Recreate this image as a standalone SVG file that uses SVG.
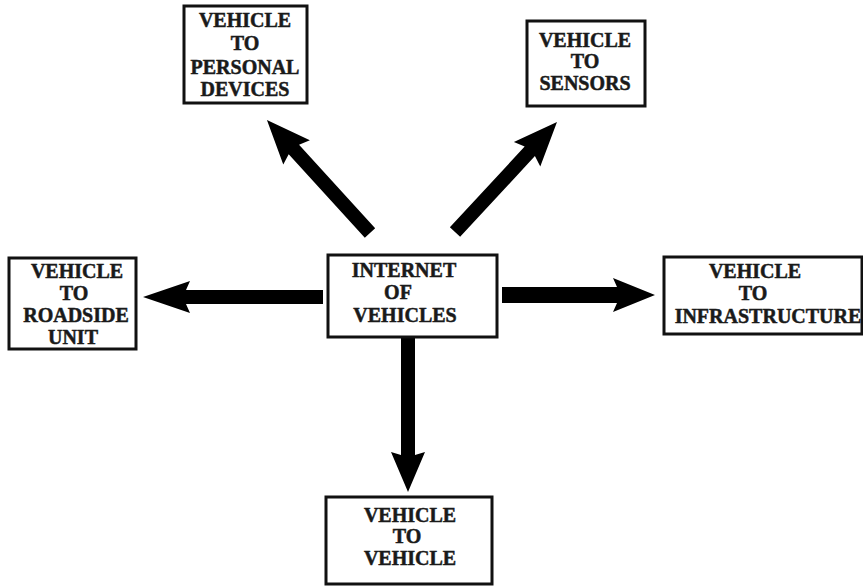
<svg xmlns="http://www.w3.org/2000/svg" width="863" height="587" viewBox="0 0 863 587">
  <style>
    .box { fill: #ffffff; stroke: #111111; stroke-width: 3; }
    .lbl { font-family: "Liberation Serif", "Times New Roman", serif; font-weight: bold; font-size: 20px; fill: #1a1a1a; stroke: #1a1a1a; stroke-width: 0.5; text-anchor: middle; }
    .arrow { fill: #000000; }
  </style>
  <rect width="863" height="587" fill="#ffffff"/>

  <!-- connectors: thick block arrows drawn from the hub outwards -->
  <g id="connectors">
    <!-- to personal devices -->
    <polygon class="arrow" transform="translate(370,233) rotate(-132.35)" points="0,-7 113,-7 109,-18 153,0 109,18 113,7 0,7"/>
    <!-- to sensors -->
    <polygon class="arrow" transform="translate(455,232) rotate(-47.16)" points="0,-7 110,-7 106,-18 150,0 106,18 110,7 0,7"/>
    <!-- to roadside unit -->
    <polygon class="arrow" transform="translate(323,297) rotate(180)" points="0,-7 137,-7 133,-16 180,0 133,16 137,7 0,7"/>
    <!-- to infrastructure -->
    <polygon class="arrow" transform="translate(502,295)" points="0,-8 115,-8 111,-17 153,0 111,17 115,8 0,8"/>
    <!-- to vehicle -->
    <polygon class="arrow" transform="translate(408,338) rotate(90)" points="0,-7 117,-7 114,-17 154,0 114,17 117,7 0,7"/>
  </g>

  <g id="node-personal-devices">
    <rect class="box" x="184" y="6" width="123" height="97"/>
    <text class="lbl" x="245" y="27">VEHICLE</text>
    <text class="lbl" x="245" y="50">TO</text>
    <text class="lbl" x="245" y="74">PERSONAL</text>
    <text class="lbl" x="245" y="96">DEVICES</text>
  </g>

  <g id="node-sensors">
    <rect class="box" x="527" y="21" width="118" height="85"/>
    <text class="lbl" x="585" y="47">VEHICLE</text>
    <text class="lbl" x="585" y="68">TO</text>
    <text class="lbl" x="585" y="90">SENSORS</text>
  </g>

  <g id="node-roadside-unit">
    <rect class="box" x="9" y="258" width="127" height="91"/>
    <text class="lbl" x="77" y="278">VEHICLE</text>
    <text class="lbl" x="74" y="300">TO</text>
    <text class="lbl" x="76" y="322">ROADSIDE</text>
    <text class="lbl" x="73" y="344">UNIT</text>
  </g>

  <g id="node-internet-of-vehicles">
    <rect class="box" x="328" y="255" width="169" height="82"/>
    <text class="lbl" x="404" y="277">INTERNET</text>
    <text class="lbl" x="398" y="299">OF</text>
    <text class="lbl" x="405" y="322">VEHICLES</text>
  </g>

  <g id="node-infrastructure">
    <rect class="box" x="664" y="257" width="198" height="77"/>
    <text class="lbl" x="755" y="278">VEHICLE</text>
    <text class="lbl" x="753" y="300">TO</text>
    <text class="lbl" x="768" y="323">INFRASTRUCTURE</text>
  </g>

  <g id="node-vehicle">
    <rect class="box" x="326" y="497" width="166" height="87"/>
    <text class="lbl" x="410" y="522">VEHICLE</text>
    <text class="lbl" x="407" y="543">TO</text>
    <text class="lbl" x="410" y="565">VEHICLE</text>
  </g>
</svg>
